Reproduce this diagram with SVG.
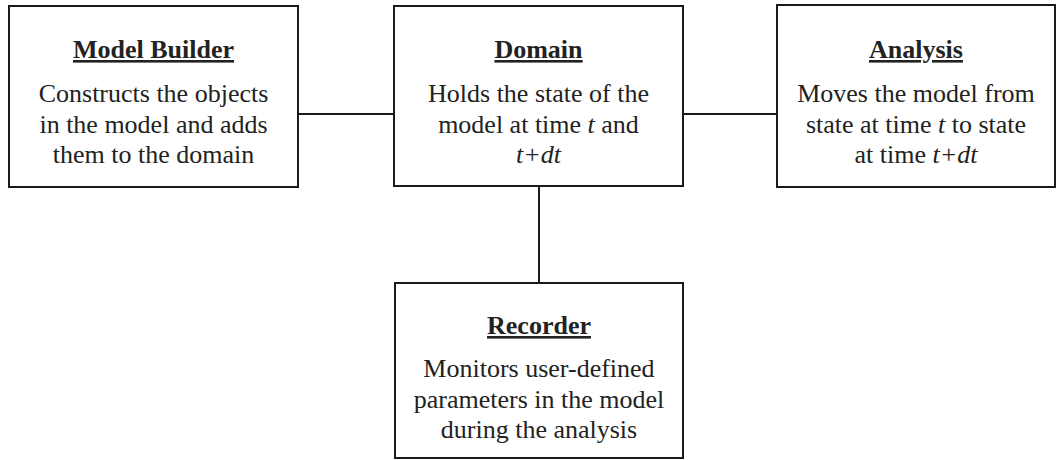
<svg xmlns="http://www.w3.org/2000/svg" width="1056" height="460" viewBox="0 0 1056 460">
<style>
.box{fill:#fff;stroke:#1a1a1a;stroke-width:2}
.conn{stroke:#1a1a1a;stroke-width:2;fill:none}
text{font-family:"Liberation Serif","Times New Roman",serif;font-size:26px;fill:#222;text-anchor:middle}
.t{font-weight:bold;text-decoration:underline}
</style>
<rect width="1056" height="460" fill="#fff"/>
<g id="connectors">
<line class="conn" x1="298" y1="114" x2="394" y2="114"/>
<line class="conn" x1="683" y1="114" x2="777" y2="114"/>
<line class="conn" x1="539" y1="186" x2="539" y2="283"/>
</g>
<g id="model-builder">
<rect class="box" x="9" y="6" width="289" height="181"/>
<text class="t" x="153.5" y="58">Model Builder</text>
<text x="153.5" y="102">Constructs the objects</text>
<text x="153.5" y="133">in the model and adds</text>
<text x="153.5" y="163">them to the domain</text>
</g>
<g id="domain">
<rect class="box" x="394" y="6" width="289" height="180"/>
<text class="t" x="538.5" y="58">Domain</text>
<text x="538.5" y="102">Holds the state of the</text>
<text x="538.5" y="133">model at time <tspan font-style="italic">t</tspan> and</text>
<text x="538.5" y="163" font-style="italic">t+dt</text>
</g>
<g id="analysis">
<rect class="box" x="777" y="5" width="278" height="182"/>
<text class="t" x="916" y="58">Analysis</text>
<text x="916" y="102">Moves the model from</text>
<text x="916" y="133">state at time <tspan font-style="italic">t</tspan> to state</text>
<text x="916" y="163">at time <tspan font-style="italic">t+dt</tspan></text>
</g>
<g id="recorder">
<rect class="box" x="395" y="283" width="288" height="175"/>
<text class="t" x="539" y="334">Recorder</text>
<text x="539" y="377">Monitors user-defined</text>
<text x="539" y="408">parameters in the model</text>
<text x="539" y="438">during the analysis</text>
</g>
</svg>
